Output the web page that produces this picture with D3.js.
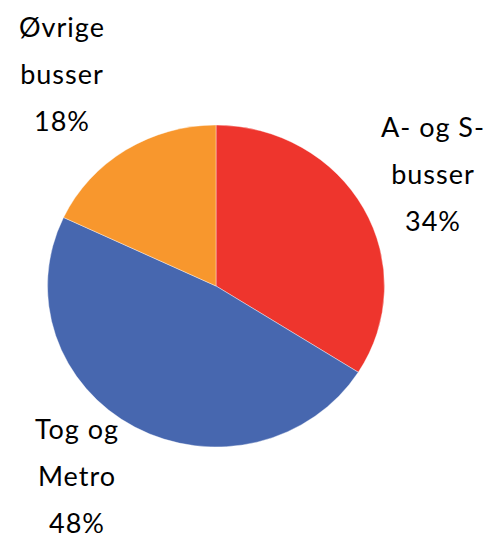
<!DOCTYPE html>
<html>
<head>
<meta charset="utf-8">
<script src="https://cdn.jsdelivr.net/npm/d3@7"></script>
<style>
  body { margin: 0; background: #fff; }
</style>
</head>
<body>
<div id="chart"></div>
<script>
// shares of trips, clockwise from 12 o'clock
const categories = ["A- og S-busser", "Tog og Metro", "Øvrige busser"];
const values = [34, 48, 18];
const label_lines = [["A- og S-", "busser"], ["Tog og", "Metro"], ["Øvrige", "busser"]];
const colors = ["#ee352d", "#4767af", "#f8972d"];

const width = 500, height = 538;
const cx = 216, cy = 286;
const r = 168.5;
const y_squash = 161 / 168.5;

// label anchors (center x, first baseline y)
const label_pos = [[433, 137], [77, 439], [62, 37]];
const line_h = 47;

let svg = d3.select("#chart").append("svg")
    .attr("width", width)
    .attr("height", height);

let pie = d3.pie()
    .sort(null)
    .value(d => d);

let arc = d3.arc()
    .innerRadius(0)
    .outerRadius(r);

let group = svg.append("g")
    .attr("transform", `translate(${cx}, ${cy}) scale(1, ${y_squash})`);

group.selectAll("path")
    .data(pie(values))
    .enter()
    .append("path")
    .attr("d", arc)
    .attr("fill", (d, i) => colors[i])
    .attr("stroke", "#fff")
    .attr("stroke-width", 0.4);

let labels = svg.selectAll(".lbl")
    .data(categories)
    .enter()
    .append("text")
    .attr("class", "lbl")
    .attr("text-anchor", "middle")
    .style("font-family", "Lato, 'Open Sans', sans-serif")
    .style("font-size", "27px")
    .style("letter-spacing", "1px")
    .attr("fill", "#000");

labels.each(function (d, i) {
    let t = d3.select(this);
    let lines = label_lines[i].concat([values[i] + "%"]);
    lines.forEach((s, j) => {
        t.append("tspan")
            .attr("x", label_pos[i][0])
            .attr("y", label_pos[i][1] + j * line_h)
            .text(s);
    });
});
</script>
</body>
</html>
